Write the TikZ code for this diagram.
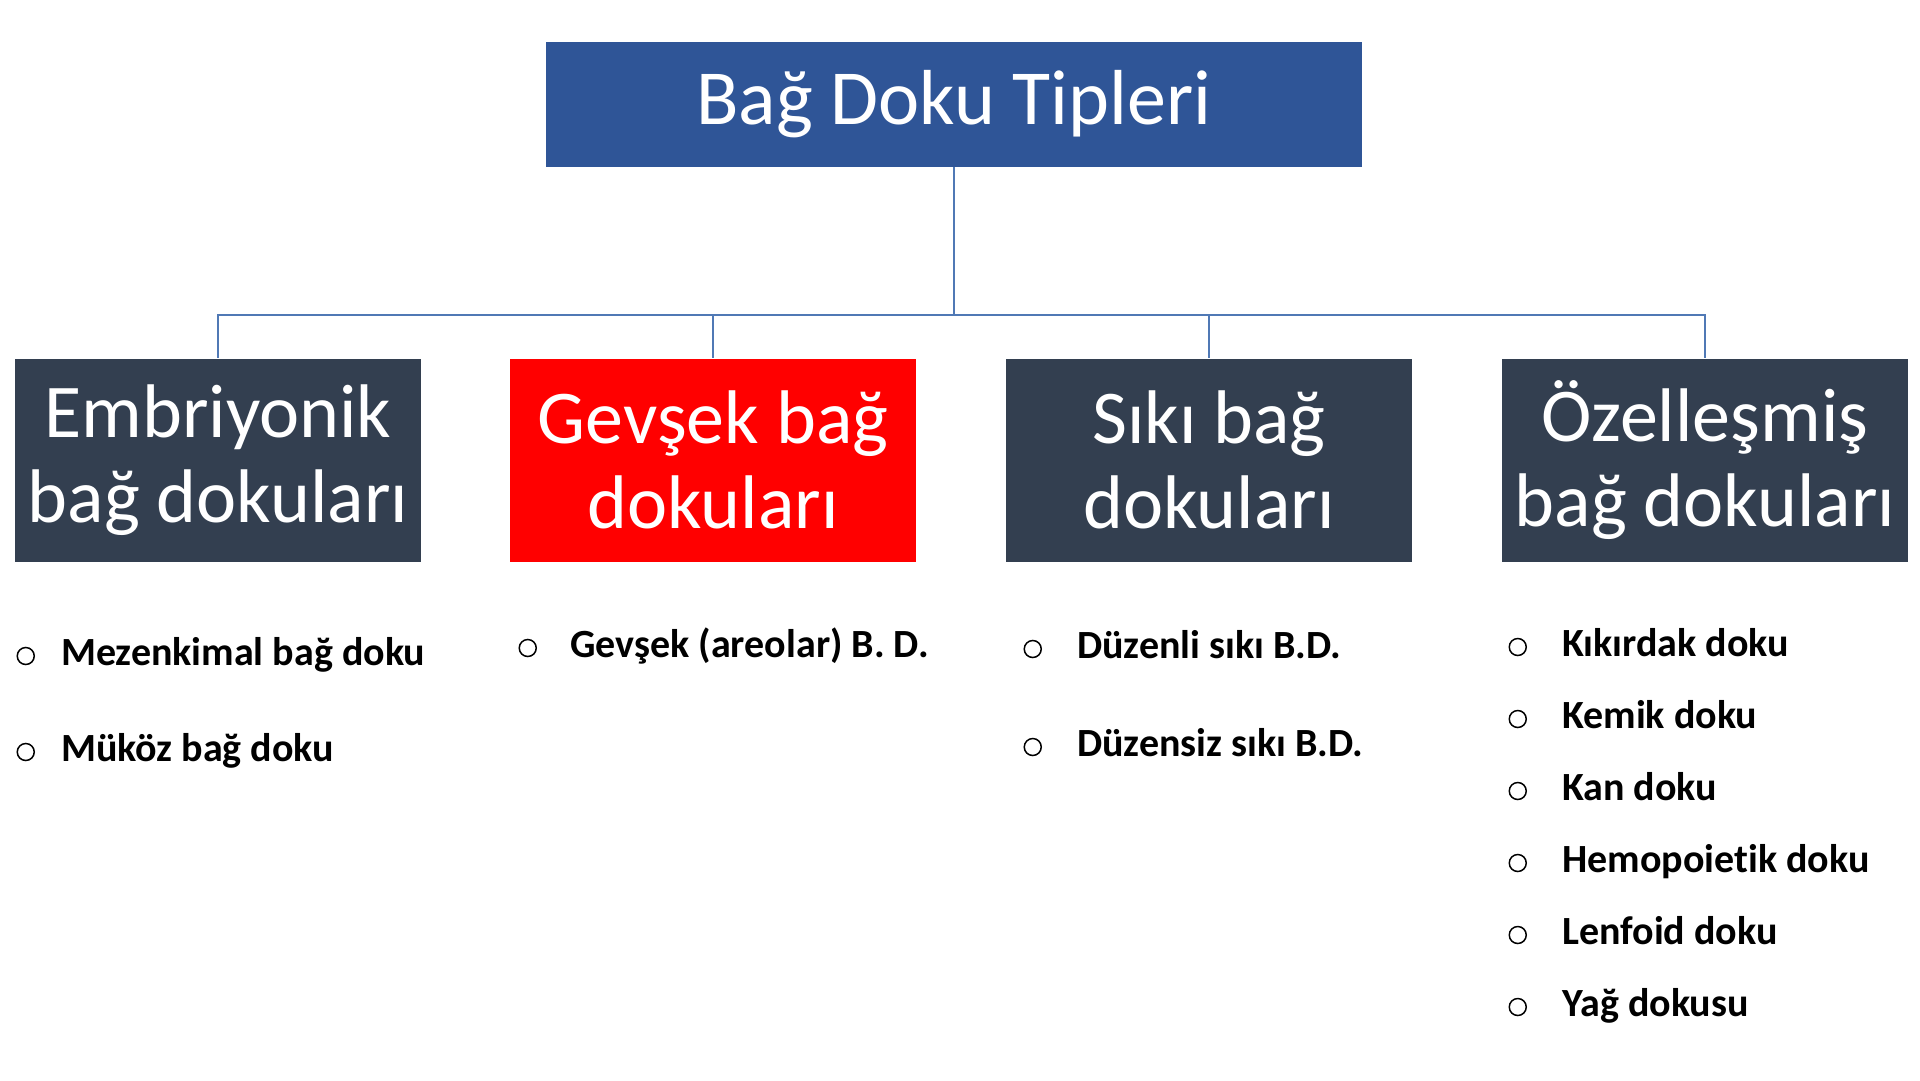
\documentclass[tikz,border=0pt]{standalone}
\usepackage{fontspec}
\setmainfont{Carlito}[Ligatures=NoCommon]
\usepackage{tikz}
\usetikzlibrary{positioning}
\definecolor{titleblue}{HTML}{2F5597}
\definecolor{slatedark}{HTML}{333F50}
\definecolor{loosered}{HTML}{FF0000}
\definecolor{linkblue}{HTML}{5079B5}

\begin{document}
\begin{tikzpicture}[
    x=1pt, y=-1pt,
    node distance=32pt,
    every node/.style={inner sep=0pt},
    titlebox/.style={
        rectangle,
        fill=titleblue,
        minimum width=816pt,
        minimum height=125pt,
        text=white,
        font=\fontsize{78}{80}\selectfont
    },
    box/.style={
        rectangle,
        fill=slatedark,
        minimum width=406pt,
        minimum height=203pt,
        text=white,
        align=center,
        font=\fontsize{76}{85}\selectfont
    },
    link/.style={
        draw=linkblue,
        line width=2pt
    },
    item/.style={
        anchor=west,
        text height=28pt,
        text depth=10pt,
        font=\fontsize{40}{42}\selectfont\bfseries
    },
    dot/.style={
        circle,
        draw=black,
        line width=1.5pt,
        minimum size=17pt
    }
]

% Page
\fill[white] (0,0) rectangle (1920,1080);
\useasboundingbox (0,0) rectangle (1920,1080);

% Top node
\node[titlebox] (types) at (954,104.5) {Bağ Doku Tipleri};

% Four branches
\node[box] (embryo) at (218,460) {Embriyonik\\bağ dokuları};
\node[box, fill=loosered] (loose) at (713,460) {Gevşek bağ\\dokuları};
\node[box] (dense) at (1209,460) {Sıkı bağ\\dokuları};
\node[box] (special) at (1705,460) {Özelleşmiş\\bağ dokuları};

% Connectors
\coordinate (bus) at (954,315);
\draw[link] (types.south) -- (bus);
\draw[link] (bus) -| (embryo.north);
\draw[link] (bus) -| (loose.north);
\draw[link] (bus) -| (dense.north);
\draw[link] (bus) -| (special.north);

% Embryonic list
\node[item] (mesen) at (61,656) {Mezenkimal bağ doku};
\node[item] (mucous) at (61,752) {Müköz bağ doku};
\node[dot, left=26pt of mesen] (mesendot) {};
\node[dot, left=26pt of mucous] (mucousdot) {};

% Loose list
\node[item] (areolar) at (570,648) {Gevşek (areolar) B. D.};
\node[dot, left=33pt of areolar] (areolardot) {};

% Dense list
\node[item] (regular) at (1077,649) {Düzenli sıkı B.D.};
\node[item] (irregular) at (1077,747) {Düzensiz sıkı B.D.};
\node[dot, left=35pt of regular] (regulardot) {};
\node[dot, left=35pt of irregular] (irregulardot) {};

% Specialised list
\node[item] (cartilage) at (1562,647) {Kıkırdak doku};
\node[item] (bone) at (1562,719) {Kemik doku};
\node[item] (blood) at (1562,791) {Kan doku};
\node[item] (hemo) at (1562,863) {Hemopoietik doku};
\node[item] (lymph) at (1562,935) {Lenfoid doku};
\node[item] (fat) at (1562,1007) {Yağ dokusu};
\node[dot, left=35pt of cartilage] (cartilagedot) {};
\node[dot, left=35pt of bone] (bonedot) {};
\node[dot, left=35pt of blood] (blooddot) {};
\node[dot, left=35pt of hemo] (hemodot) {};
\node[dot, left=35pt of lymph] (lymphdot) {};
\node[dot, left=35pt of fat] (fatdot) {};

\end{tikzpicture}
\end{document}
